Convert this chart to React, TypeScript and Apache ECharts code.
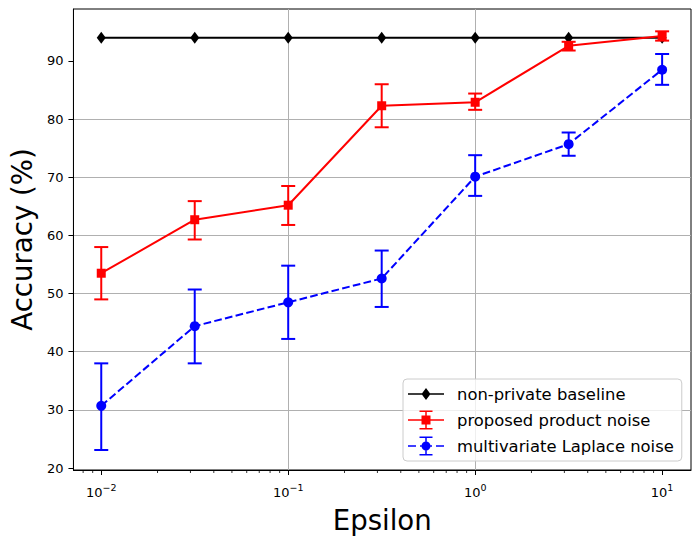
import React, { useEffect, useRef } from "react";
import * as echarts from "echarts";

const epsilon = [0.01, 0.031623, 0.1, 0.316228, 1, 3.16228, 10];
const baseline = [94.0, 94.0, 94.0, 94.0, 94.0, 94.0, 94.0];
const proposedMean = [53.5, 62.7, 65.2, 82.3, 82.9, 92.6, 94.3];
const proposedLow = [49.0, 59.3, 61.8, 78.6, 81.6, 91.8, 93.5];
const proposedHigh = [58.0, 65.9, 68.5, 86.0, 84.4, 93.3, 95.1];
const laplaceMean = [30.7, 44.4, 48.5, 52.6, 70.1, 75.7, 88.5];
const laplaceLow = [23.1, 38.0, 42.2, 47.7, 66.8, 73.7, 85.9];
const laplaceHigh = [38.0, 50.7, 54.8, 57.4, 73.8, 77.7, 91.2];
const xTicks = [0.01, 0.1, 1, 10];
const yTicks = [20, 30, 40, 50, 60, 70, 80, 90];
const minorTicks = [
  0.008, 0.009, 0.02, 0.03, 0.04, 0.05, 0.06, 0.07, 0.08, 0.09,
  0.2, 0.3, 0.4, 0.5, 0.6, 0.7, 0.8, 0.9,
  2, 3, 4, 5, 6, 7, 8, 9,
];
const seriesNames = ["non-private baseline", "proposed product noise", "multivariate Laplace noise"];

const X_MIN = 0.0071;
const X_MAX = 14.27;
const Y_MIN = 19.66;
const Y_MAX = 98.94;
const FONT = "DejaVu Sans";

const corners = "M0 0h0.01v0.01h-0.01Z M35.99 19.99h0.01v0.01h-0.01Z ";
const iconBaseline =
  "path://" + corners + "M0 9.25h36v1.5h-36Z M18 4l4.5 6l-4.5 6l-4.5 -6Z";
const iconProposed =
  "path://" + corners +
  "M0 9.25h36v1.5h-36Z M17.25 1h1.5v18h-1.5Z M11.5 0.5h13v1.5h-13Z M11.5 18h13v1.5h-13Z M13.5 5.5h9v9h-9Z";
const iconLaplace =
  "path://" + corners +
  "M0 9.25h8v1.5h-8Z M12 9.25h12v1.5h-12Z M28 9.25h8v1.5h-8Z M17.25 1h1.5v18h-1.5Z M11.5 0.5h13v1.5h-13Z M11.5 18h13v1.5h-13Z M13.5 10a4.5 4.5 0 1 1 9 0a4.5 4.5 0 1 1 -9 0Z";

function errorBarSeries(name: string, color: string, low: number[], high: number[], z: number) {
  return {
    name,
    type: "custom",
    z,
    data: epsilon.map((e, i) => [e, low[i], high[i]]),
    renderItem: (params: any, api: any) => {
      const x = api.value(0);
      const p1 = api.coord([x, api.value(1)]);
      const p2 = api.coord([x, api.value(2)]);
      const hw = 7;
      const style = { stroke: color, lineWidth: 2 };
      return {
        type: "group",
        children: [
          { type: "line", shape: { x1: p1[0], y1: p1[1], x2: p2[0], y2: p2[1] }, style },
          { type: "line", shape: { x1: p1[0] - hw, y1: p1[1], x2: p1[0] + hw, y2: p1[1] }, style },
          { type: "line", shape: { x1: p2[0] - hw, y1: p2[1], x2: p2[0] + hw, y2: p2[1] }, style },
        ],
      };
    },
  };
}

function supLabel(v: number) {
  const e = Math.log10(v);
  const r = Math.round(e);
  if (Math.abs(e - r) > 1e-6) return "";
  const s = r < 0 ? "\u2212" + String(-r) : String(r);
  return "{b|10}{s|" + s + "}";
}

export default function App() {
  const ref = useRef<HTMLDivElement>(null);
  useEffect(() => {
    if (!ref.current) return;
    const chart = echarts.init(ref.current, null, { renderer: "svg" });
    chart.setOption({
      animation: false,
      textStyle: { fontFamily: FONT },
      grid: {
        left: 71,
        right: 9,
        top: 9,
        bottom: 73,
        show: true,
        borderColor: "#000",
        borderWidth: 1,
        backgroundColor: "transparent",
      },
      legend: {
        orient: "vertical",
        left: 403,
        top: 379,
        selectedMode: false,
        itemWidth: 36,
        itemHeight: 20,
        itemGap: 6,
        padding: [5, 8, 5, 5],
        backgroundColor: "rgba(255,255,255,0.8)",
        borderColor: "#cccccc",
        borderWidth: 1,
        borderRadius: 4,
        textStyle: { fontFamily: FONT, fontSize: 16.4, color: "#000", padding: [0, 0, 0, 8] },
        data: [
          { name: seriesNames[0], icon: iconBaseline, itemStyle: { color: "#000" } },
          { name: seriesNames[1], icon: iconProposed, itemStyle: { color: "#ff0000" } },
          { name: seriesNames[2], icon: iconLaplace, itemStyle: { color: "#0000ff" } },
        ],
      },
      xAxis: {
        type: "log",
        logBase: 10,
        min: X_MIN,
        max: X_MAX,
        name: "Epsilon",
        nameLocation: "middle",
        nameGap: 36,
        nameTextStyle: { fontFamily: FONT, fontSize: 27.6, color: "#000" },
        axisLine: { show: true, lineStyle: { color: "#000", width: 1 } },
        axisTick: { show: true, length: 5, customValues: xTicks, lineStyle: { color: "#000", width: 1 } },
        axisLabel: {
          show: true,
          showMinLabel: false,
          showMaxLabel: false,
          margin: 9,
          formatter: (v: number) => supLabel(v),
          rich: {
            b: { fontFamily: FONT, fontSize: 13, color: "#000", verticalAlign: "bottom", lineHeight: 20 },
            s: { fontFamily: FONT, fontSize: 9.5, color: "#000", verticalAlign: "bottom", padding: [0, 0, 7, 0], lineHeight: 20 },
          },
        },
        splitLine: {
          show: true,
          showMinLine: false,
          showMaxLine: false,
          lineStyle: { color: "#b0b0b0", width: 1 },
        },
      },
      yAxis: {
        type: "value",
        min: Y_MIN,
        max: Y_MAX,
        splitNumber: 8,
        name: "Accuracy (%)",
        nameLocation: "middle",
        nameGap: 35,
        nameRotate: 90,
        nameTextStyle: { fontFamily: FONT, fontSize: 27.6, color: "#000" },
        axisLine: { show: true, lineStyle: { color: "#000", width: 1 } },
        axisTick: { show: true, length: 5, customValues: yTicks, lineStyle: { color: "#000", width: 1 } },
        axisLabel: {
          margin: 10,
          fontFamily: FONT,
          fontSize: 13,
          color: "#000",
          formatter: (v: number) => (Math.abs(v - Math.round(v / 10) * 10) < 1e-6 ? String(Math.round(v)) : ""),
        },
        splitLine: {
          show: true,
          showMinLine: false,
          showMaxLine: false,
          lineStyle: { color: "#b0b0b0", width: 1 },
        },
      },
      series: [
        {
          name: "minor",
          type: "custom",
          silent: true,
          z: 1,
          data: minorTicks.map((v) => [v]),
          renderItem: (params: any, api: any) => {
            const p = api.coord([api.value(0), Y_MIN]);
            return {
              type: "line",
              shape: { x1: p[0], y1: p[1], x2: p[0], y2: p[1] + 3 },
              style: { stroke: "#000", lineWidth: 0.8 },
            };
          },
        },
        {
          name: seriesNames[0],
          type: "line",
          z: 3,
          data: epsilon.map((e, i) => [e, baseline[i]]),
          symbol: "diamond",
          symbolSize: [9, 12],
          showAllSymbol: true,
          lineStyle: { color: "#000", width: 2 },
          itemStyle: { color: "#000", borderWidth: 0 },
        },
        {
          name: seriesNames[1],
          type: "line",
          z: 4,
          data: epsilon.map((e, i) => [e, proposedMean[i]]),
          symbol: "rect",
          symbolSize: 9,
          lineStyle: { color: "#ff0000", width: 2 },
          itemStyle: { color: "#ff0000", borderWidth: 0 },
        },
        errorBarSeries(seriesNames[1], "#ff0000", proposedLow, proposedHigh, 4),
        {
          name: seriesNames[2],
          type: "line",
          z: 5,
          data: epsilon.map((e, i) => [e, laplaceMean[i]]),
          symbol: "circle",
          symbolSize: 10,
          lineStyle: { color: "#0000ff", width: 2, type: [7.7, 3.3] },
          itemStyle: { color: "#0000ff", borderWidth: 0 },
        },
        errorBarSeries(seriesNames[2], "#0000ff", laplaceLow, laplaceHigh, 5),
      ],
    });
    return () => chart.dispose();
  }, []);
  return <div ref={ref} style={{ position: "absolute", left: 0, top: 0, width: 700, height: 543 }} />;
}
